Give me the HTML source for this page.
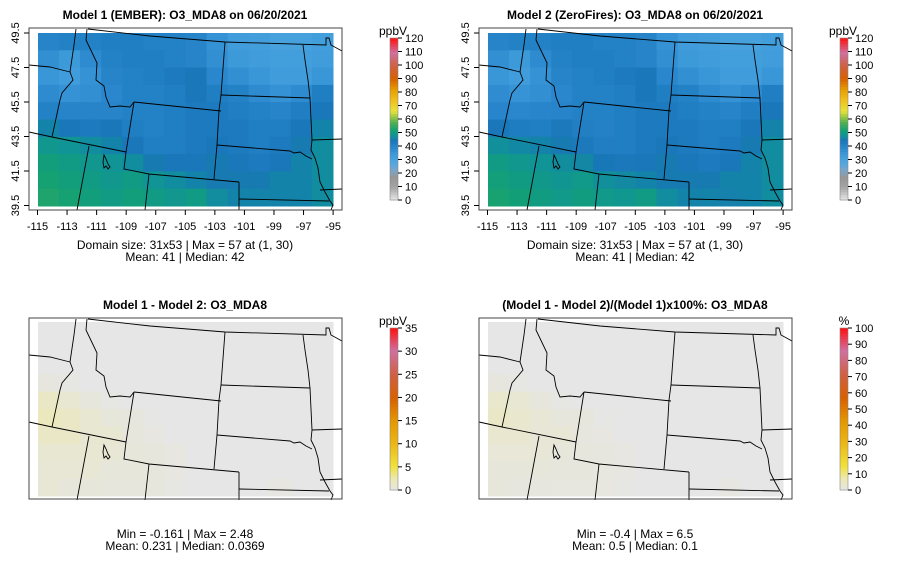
<!DOCTYPE html>
<html><head><meta charset="utf-8">
<style>
html,body{margin:0;padding:0;background:#fff;}
svg{display:block;font-family:"Liberation Sans",sans-serif;}
</style></head>
<body>
<svg id="fig" width="900" height="579" viewBox="0 0 900 579" xmlns="http://www.w3.org/2000/svg">
<defs>
<g id="borders" fill="none" stroke="#000" stroke-width="0.9">
<path d="M88,29 L150,36 L225,42 L326,45 L326,38 L329,38 L331,45 L342,51"/>
<path d="M76,29 L74,45 L70,72 L73,80 L62,93 L60,100 L52,137"/>
<path d="M29,65 L50,67 L70,72"/>
<path d="M87,29 L86,40 L97,63 L96,80 L104,86 L106,97 L110,107 L120,106 L130,107 L134,102"/>
<path d="M29,132 L52,137 L126,152"/>
<path d="M134,102 L221,111"/>
<path d="M134,102 L126,152 L124,169 L149,174 L239,182"/>
<path d="M89,146 L77,210"/>
<path d="M149,174 L145,210"/>
<path d="M225,42 L221,95 L219,110 L217,145 L214,179"/>
<path d="M239,182 L239,210"/>
<path d="M221,95 L310,98"/>
<path d="M217,145 L290,151 L294,153 L300,152 L306,156 L312,159"/>
<path d="M239,199 L329,201"/>
<path d="M303,45 L305,60 L308,80 L310,98 L312,140 L311,150 L315,158 L318,168 L320,182 L325,192 L330,201 L333,205 L331,210"/>
<path d="M312,140 L342,139"/>
<path d="M320,190 L342,189"/>
<path d="M104,155 L106,159 L108,164 L110,167 L108,169 L106,166 L104,168 L103,162 Z"/>
</g>
</defs>
<g id="panels"></g>
</svg>
<script>
// ---- data (coarse grid, north->south rows, west->east cols) ----
const model1Rows = [
[40,41,41,42,42,41,41,40,36,33,32,31,31,32],
[37,34,38,41,42,42,41,40,37,34,33,32,32,33],
[35,33,36,40,41,42,43,44,39,37,35,33,33,35],
[38,36,37,39,41,41,42,44,42,41,38,36,38,42],
[41,40,40,40,41,41,42,43,43,42,41,40,42,44],
[46,44,43,44,42,41,42,43,43,43,42,42,44,46],
[49,48,47,46,44,42,42,43,44,43,42,43,45,47],
[51,50,49,48,47,45,44,44,45,44,43,44,46,47],
[52,51,50,49,50,48,47,46,45,45,45,46,46,47],
[53,52,51,50,51,50,49,50,47,46,46,46,46,47]
];
const diffRows = [
[0,0,0,0,0,0,0,0,0,0,0,0,0,0],
[0,0,0,0,0,0,0,0,0,0,0,0,0,0],
[0,0,0,0,0,0,0,0,0,0,0,0,0,0],
[0.4,0.2,0,0,0,0,0,0,0,0,0,0,0,0],
[1.5,1,0.5,0.2,0,0,0,0,0,0,0,0,0,0],
[2,1.5,1,0.6,0.5,0.1,0,0,0,0,0,0,0,0],
[1.5,1.5,1,1,0.5,0.3,0,0,0,0,0,0,0,0],
[1,1,1,0.8,0.6,0.5,0.3,0,0,0,0,0,0,0],
[0.8,0.8,0.8,0.6,0.6,0.5,0.3,0,0,0,0,0,0,0],
[0.8,0.6,0.6,0.5,0.5,0.5,0.2,0,0,0,0,0.3,0,0]
];
const xTickLabels = [-115,-113,-111,-109,-107,-105,-103,-101,-99,-97,-95];
const yTickLabels = [49.5,47.5,45.5,43.5,41.5,39.5];
const barTicksAbs = [0,10,20,30,40,50,60,70,80,90,100,110,120];
const barTicksDiff = [0,5,10,15,20,25,30,35];
const barTicksPct = [0,10,20,30,40,50,60,70,80,90,100];
const titles = ["Model 1 (EMBER): O3_MDA8 on 06/20/2021","Model 2 (ZeroFires): O3_MDA8 on 06/20/2021","Model 1 - Model 2: O3_MDA8","(Model 1 - Model 2)/(Model 1)x100%: O3_MDA8"];
const captions = [["Domain size: 31x53 | Max = 57 at (1, 30)","Mean: 41 |  Median: 42"],["Domain size: 31x53 | Max = 57 at (1, 30)","Mean: 41 |  Median: 42"],["Min = -0.161 | Max = 2.48","Mean: 0.231 |  Median: 0.0369"],["Min = -0.4 | Max = 6.5","Mean: 0.5 |  Median: 0.1"]];

const NS="http://www.w3.org/2000/svg";
const palAbs=[[0,[232,232,232]],[0.08,[165,165,165]],[0.14,[150,150,150]],[0.19,[120,165,205]],[0.23,[80,168,224]],[0.28,[62,155,218]],[0.33,[40,133,203]],[0.37,[24,118,184]],[0.40,[16,148,150]],[0.43,[18,160,118]],[0.48,[80,176,80]],[0.55,[230,226,60]],[0.62,[240,190,30]],[0.68,[232,160,0]],[0.75,[216,96,0]],[0.83,[208,96,64]],[0.91,[208,112,160]],[1,[255,16,16]]];
const palDiff=[[0,[230,230,230]],[0.07,[236,232,180]],[0.15,[240,224,60]],[0.3,[235,180,20]],[0.43,[228,150,0]],[0.57,[216,96,0]],[0.71,[208,96,64]],[0.86,[208,112,160]],[1,[255,16,16]]];
function col(t,pal){t=Math.max(0,Math.min(1,t));for(let i=1;i<pal.length;i++){if(t<=pal[i][0]){const a=pal[i-1],b=pal[i];const f=(t-a[0])/(b[0]-a[0]);const c=a[1].map((v,k)=>Math.round(v+(b[1][k]-v)*f));return `rgb(${c[0]},${c[1]},${c[2]})`;}}return "rgb(255,16,16)";}
function mk(tag,attrs,parent){const e=document.createElementNS(NS,tag);for(const k in attrs)e.setAttribute(k,attrs[k]);parent.appendChild(e);return e;}
const root=document.getElementById('panels');
const m2Rows=model1Rows.map((r,i)=>r.map((v,j)=>v-diffRows[i][j]));
const pctRows=model1Rows.map((r,i)=>r.map((v,j)=>diffRows[i][j]/v*100));
const panels=[
 {dx:0,dy:0,grid:model1Rows,max:120,ticks:barTicksAbs,unit:"ppbV",axes:true,pal:palAbs},
 {dx:450,dy:0,grid:m2Rows,max:120,ticks:barTicksAbs,unit:"ppbV",axes:true,pal:palAbs},
 {dx:0,dy:290,grid:diffRows,max:35,ticks:barTicksDiff,unit:"ppbV",axes:false,pal:palDiff},
 {dx:450,dy:290,grid:pctRows,max:100,ticks:barTicksPct,unit:"%",axes:false,pal:palDiff}
];
// axis functions
const lonX=l=>37.5+(l+115)*14.78;
const latY=l=>33+(49.5-l)*17.25;
panels.forEach((p,pi)=>{
 const g=mk('g',{transform:`translate(${p.dx},${p.dy})`},root);
 
 
 const by0=28, by1=p.axes?210:209;
 const t=mk('text',{x:185,y:19,'text-anchor':'middle','font-size':12,'font-weight':'bold'},g);t.textContent=titles[pi];
 
 
 const rows=p.grid.length, cols=p.grid[0].length;
 const x0=38,x1=333,y0=p.axes?33:32,y1=206;
 const cw=(x1-x0)/cols, ch=(y1-y0)/rows;
 p.grid.forEach((r,i)=>r.forEach((v,j)=>{
  const c=mk('rect',{x:x0+j*cw,y:y0+i*ch,width:cw+0.5,height:ch+0.5,fill:col(v/p.max,p.pal)},g);
  
  
 }));
 const u=mk('use',{href:'#borders'},g);
 
 
 const box=mk('rect',{x:29,y:by0,width:313,height:by1-by0,fill:'none',stroke:'#444','stroke-width':1},g);
 
 
 if(p.axes){
  xTickLabels.forEach(l=>{const x=lonX(l);mk('line',{x1:x,y1:210,x2:x,y2:215,stroke:'#000'},g);
   const tx=mk('text',{x:x,y:230,'text-anchor':'middle','font-size':11},g);tx.textContent=l;
   
   });
  yTickLabels.forEach(l=>{const y=latY(l);mk('line',{x1:24,y1:y,x2:29,y2:y,stroke:'#000'},g);
   const ty=mk('text',{x:19,y:y,'text-anchor':'middle','font-size':11,transform:`rotate(-90 19 ${y})`},g);ty.textContent=l.toFixed(1);
   
   });
 }
 captions[pi].forEach((s,k)=>{const c=mk('text',{x:185,y:(p.axes?249:248)+k*12,'text-anchor':'middle','font-size':12,'xml:space':'preserve'},g);c.textContent=s;
  
  });
 // colorbar
 const bt=38, bb=200, bx=390;
 const N=60;
 for(let k=0;k<N;k++){const r=mk('rect',{x:bx,y:bb-(k+1)*(bb-bt)/N,width:8,height:(bb-bt)/N+0.5,fill:col((k+0.5)/N,p.pal)},g);
  
  }
 mk('rect',{x:bx,y:bt,width:8,height:bb-bt,fill:'none',stroke:'#888','stroke-width':0.6},g);
 p.ticks.forEach(v=>{const y=bb-(v/p.max)*(bb-bt);mk('line',{x1:398,y1:y,x2:402,y2:y,stroke:'#000'},g);
  const tl=mk('text',{x:405,y:y+4,'font-size':11},g);tl.textContent=v;
  
  });
 const ut=mk('text',{x:p.unit==='%'?394:393,y:35,'text-anchor':'middle','font-size':12},g);ut.textContent=p.unit;
 
 
});
</script>
</body></html>
